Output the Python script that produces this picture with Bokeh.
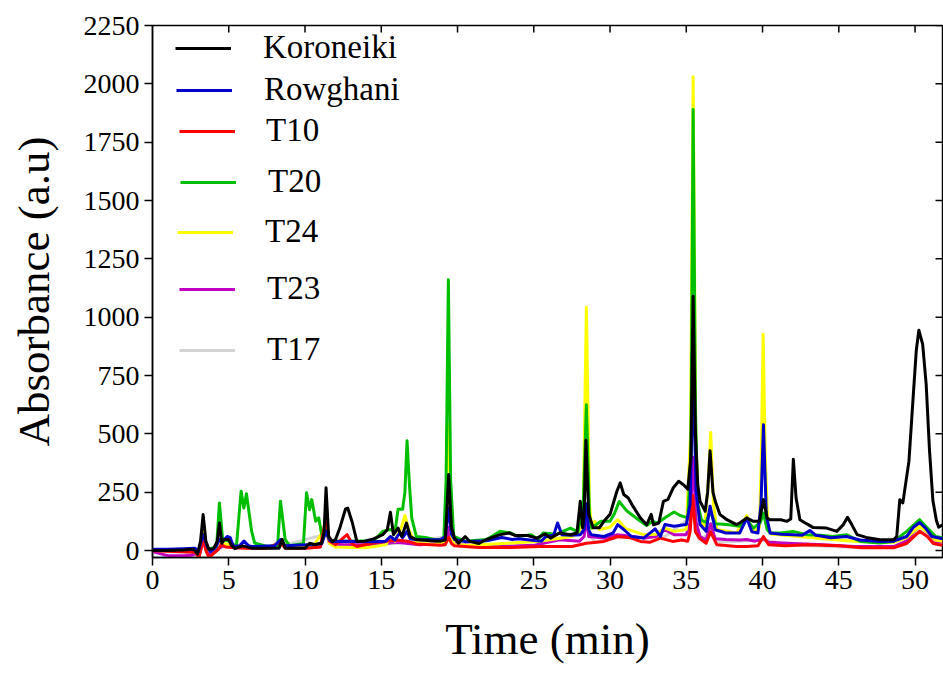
from bokeh.plotting import figure
from bokeh.models import (Range1d, SingleIntervalTicker, Legend, LegendItem, ColumnDataSource)
from bokeh.embed import file_html
from bokeh.resources import INLINE

# HPLC chromatograms: (retention time in min, absorbance in a.u.)
koroneiki = [
    (0, 0), (1.0, 0), (2.0, 2), (2.7, 5), (2.95, -15), (3.15, 40), (3.32, 154), (3.5, 40), (3.7, 5),
    (4.0, 8), (4.25, 40), (4.39, 118), (4.55, 31), (4.7, 47), (5.0, 47), (5.15, 25), (5.4, 8),
    (5.9, 20), (6.5, 10), (7.5, 10), (8.3, 10), (8.5, 47), (8.7, 10), (9.5, 10), (10.0, 10),
    (10.3, 31), (10.7, 25), (11.1, 32), (11.25, 80), (11.38, 269), (11.55, 60), (11.8, 38),
    (12.0, 47), (12.3, 100), (12.65, 177), (12.8, 182), (13.1, 120), (13.4, 39), (13.9, 40),
    (14.5, 50), (15.1, 68), (15.4, 90), (15.6, 164), (15.8, 68), (16.1, 96), (16.35, 60),
    (16.65, 118), (16.9, 60), (17.3, 47), (18.2, 42), (18.9, 40), (19.2, 45), (19.42, 326),
    (19.6, 100), (19.8, 53), (20.07, 31), (20.5, 60), (20.8, 39), (21.4, 30), (21.9, 47),
    (22.8, 68), (23.4, 75), (23.8, 64), (24.6, 64), (25.2, 53), (25.75, 71), (26.1, 53),
    (26.7, 75), (27.4, 68), (27.83, 75), (28.05, 211), (28.2, 97), (28.3, 150), (28.42, 472),
    (28.6, 155), (28.9, 97), (29.3, 97), (29.6, 125), (30.0, 155), (30.45, 254), (30.67, 290),
    (30.9, 240), (31.2, 225), (31.5, 190), (32.0, 139), (32.4, 110), (32.7, 155), (32.85, 110),
    (33.2, 118), (33.5, 211), (33.8, 219), (34.15, 269), (34.5, 297), (34.8, 283), (35.1, 263),
    (35.3, 400), (35.45, 1090), (35.6, 500), (35.75, 283), (35.9, 211), (36.24, 168), (36.4, 250),
    (36.56, 427), (36.75, 250), (36.9, 211), (37.2, 155), (37.66, 132), (38.3, 111), (38.5, 118),
    (38.97, 139), (39.4, 125), (39.8, 125), (40.06, 218), (40.3, 139), (40.5, 132), (41.2, 132),
    (41.6, 125), (41.85, 135), (42.02, 391), (42.2, 225), (42.45, 132), (42.8, 118), (43.0, 111),
    (43.3, 99), (44.2, 96), (44.87, 82), (45.3, 111), (45.57, 142), (45.85, 111), (46.2, 68),
    (46.8, 56), (47.7, 46), (48.6, 46), (48.8, 60), (49.0, 218), (49.2, 204), (49.6, 383),
    (49.86, 642), (50.08, 857), (50.25, 944), (50.5, 883), (50.73, 712), (50.95, 427),
    (51.17, 214), (51.4, 129), (51.55, 100), (51.8, 110),
]

rowghani = [
    (0, 5), (1.0, 5), (2.0, 8), (2.8, 10), (3.0, -5), (3.32, 68), (3.6, 15), (3.8, -5), (4.1, 10),
    (4.4, 47), (4.6, 40), (4.9, 60), (5.1, 55), (5.3, 17), (5.7, 20), (6.0, 40), (6.3, 20),
    (6.5, 17), (8.0, 20), (8.4, 47), (8.7, 20), (10.1, 25), (10.5, 25), (11.1, 30), (11.38, 82),
    (11.6, 45), (11.8, 38), (12.6, 40), (14.5, 38), (15.3, 40), (15.6, 60), (15.9, 45), (16.2, 75),
    (16.4, 55), (16.7, 82), (16.9, 50), (17.3, 46), (18.9, 47), (19.2, 60), (19.42, 182),
    (19.6, 70), (19.8, 47), (20.5, 38), (21.9, 42), (22.9, 56), (23.6, 47), (24.0, 50), (25.5, 40),
    (25.8, 60), (26.3, 65), (26.56, 118), (26.85, 67), (27.4, 65), (28.05, 68), (28.3, 90),
    (28.45, 200), (28.6, 90), (28.75, 68), (29.6, 60), (30.2, 75), (30.5, 111), (30.9, 90),
    (31.4, 60), (32.2, 53), (32.96, 93), (33.3, 60), (33.6, 111), (34.2, 104), (35.0, 111),
    (35.25, 200), (35.45, 760), (35.65, 250), (35.9, 111), (36.3, 82), (36.56, 190), (36.9, 89),
    (37.6, 75), (38.5, 75), (38.97, 139), (39.3, 80), (39.7, 75), (39.9, 200), (40.06, 539),
    (40.25, 150), (40.5, 75), (41.2, 70), (42.0, 68), (42.6, 65), (43.1, 86), (43.5, 65),
    (44.5, 55), (45.5, 60), (46.4, 45), (47.7, 39), (48.6, 40), (49.45, 60), (49.9, 100),
    (50.3, 120), (50.7, 95), (51.1, 60), (51.8, 50),
]

t10 = [
    (0, 0), (1.0, -3), (2.0, -5), (2.8, -8), (3.05, -30), (3.32, 53), (3.5, 0), (3.7, -30),
    (4.3, 4), (4.5, 25), (4.8, 15), (5.5, 12), (6.2, 10), (7.5, 10), (8.4, 35), (8.7, 10),
    (10.1, 10), (11.0, 15), (11.38, 139), (11.6, 40), (12.0, 25), (12.76, 68), (13.1, 28),
    (13.4, 17), (14.7, 35), (16.0, 45), (16.7, 40), (17.3, 28), (18.9, 22), (19.2, 25),
    (19.42, 56), (19.6, 30), (19.8, 20), (21.4, 13), (23.5, 13), (25.4, 17), (27.5, 17),
    (28.45, 31), (29.6, 39), (30.5, 60), (31.3, 55), (32.0, 39), (32.6, 35), (33.3, 53),
    (34.1, 39), (34.7, 45), (35.1, 40), (35.25, 80), (35.42, 237), (35.6, 80), (35.9, 50),
    (36.3, 31), (36.6, 80), (37.0, 25), (38.3, 17), (38.97, 17), (39.7, 20), (40.06, 60),
    (40.4, 25), (41.5, 20), (43.0, 25), (45.0, 20), (46.5, 12), (48.6, 12), (49.45, 30),
    (50.3, 82), (50.8, 60), (51.2, 30), (51.8, 22),
]

t20 = [
    (0, 0), (2.8, 2), (3.05, -10), (3.32, 60), (3.6, 5), (4.2, 15), (4.39, 204), (4.6, 47),
    (5.0, 40), (5.5, 17), (5.81, 254), (5.99, 182), (6.16, 243), (6.5, 82), (6.7, 32), (7.5, 17),
    (8.2, 20), (8.39, 211), (8.7, 47), (9.0, 20), (9.4, 25), (9.9, 30), (10.1, 247), (10.3, 175),
    (10.44, 218), (10.7, 125), (10.9, 140), (11.15, 47), (11.38, 90), (11.6, 45), (12.0, 40),
    (13.0, 40), (14.5, 42), (15.1, 82), (15.6, 90), (15.9, 80), (16.1, 177), (16.4, 177),
    (16.55, 250), (16.69, 470), (16.85, 280), (17.0, 139), (17.3, 60), (17.9, 56), (18.6, 45),
    (19.1, 50), (19.25, 300), (19.4, 1160), (19.55, 300), (19.75, 60), (20.5, 40), (21.9, 47),
    (22.8, 82), (23.5, 75), (24.0, 60), (24.8, 68), (25.3, 47), (25.6, 75), (26.5, 70),
    (27.4, 96), (27.9, 80), (28.25, 200), (28.45, 625), (28.65, 150), (28.8, 97), (29.4, 125),
    (30.0, 125), (30.3, 160), (30.6, 210), (31.1, 170), (31.5, 150), (32.0, 125), (32.4, 107),
    (32.8, 125), (33.1, 118), (33.7, 145), (34.2, 165), (34.6, 150), (35.1, 140), (35.3, 400),
    (35.45, 1890), (35.6, 600), (35.75, 200), (36.0, 130), (36.3, 120), (36.56, 170), (36.9, 115),
    (37.66, 111), (38.5, 104), (38.97, 132), (39.4, 96), (39.85, 120), (40.06, 160), (40.3, 90),
    (40.5, 75), (41.2, 75), (42.0, 82), (42.9, 68), (43.8, 65), (44.6, 60), (45.5, 68),
    (46.4, 39), (47.7, 32), (48.6, 39), (49.45, 82), (50.3, 132), (50.7, 104), (51.35, 60),
    (51.8, 55),
]

t24 = [
    (0, 0), (1.5, -2), (2.8, 2), (3.05, -10), (3.32, 80), (3.6, 5), (4.0, 10), (4.39, 40),
    (4.7, 30), (5.5, 15), (7.5, 12), (8.4, 30), (8.7, 12), (10.5, 15), (11.38, 100), (11.6, 30),
    (12.0, 15), (14.0, 12), (15.3, 25), (15.6, 60), (15.9, 40), (16.3, 96), (16.55, 150),
    (16.8, 90), (17.2, 35), (18.5, 25), (19.2, 40), (19.42, 543), (19.6, 60), (19.8, 25),
    (21.0, 22), (23.0, 30), (25.4, 40), (26.5, 50), (27.5, 60), (28.0, 80), (28.25, 200),
    (28.45, 1043), (28.65, 200), (28.8, 95), (29.0, 125), (29.3, 90), (30.0, 100), (30.5, 133),
    (31.0, 95), (32.2, 68), (33.0, 70), (33.6, 96), (34.2, 82), (35.0, 90), (35.28, 500),
    (35.45, 2030), (35.62, 500), (35.8, 150), (36.2, 90), (36.45, 300), (36.6, 506), (36.78, 200),
    (37.0, 90), (38.3, 75), (38.97, 150), (39.4, 80), (39.8, 100), (39.92, 400), (40.04, 927),
    (40.18, 400), (40.35, 100), (40.6, 70), (42.0, 62), (44.0, 50), (46.0, 40), (48.6, 35),
    (49.45, 55), (50.3, 104), (50.8, 80), (51.3, 45), (51.8, 40),
]

t23 = [
    (0, -5), (1.0, -22), (2.0, -22), (2.6, -20), (2.9, -10), (3.05, -25), (3.32, 40), (3.6, -10),
    (3.8, -20), (4.3, 5), (4.6, 20), (5.5, 12), (8.0, 12), (8.4, 30), (8.7, 12), (11.0, 15),
    (11.38, 90), (11.6, 30), (12.5, 25), (14.5, 25), (16.0, 35), (17.5, 25), (19.2, 30),
    (19.42, 100), (19.6, 35), (20.0, 25), (23.0, 18), (25.0, 22), (26.7, 46), (28.0, 40),
    (28.3, 60), (28.45, 150), (28.6, 60), (29.6, 53), (30.5, 68), (31.5, 60), (32.3, 53),
    (33.0, 60), (33.6, 89), (34.2, 68), (35.0, 68), (35.25, 120), (35.45, 400), (35.65, 120),
    (35.9, 60), (36.3, 45), (36.6, 115), (36.9, 50), (37.6, 47), (38.5, 45), (38.97, 47),
    (39.5, 40), (40.05, 50), (40.4, 35), (42.0, 30), (44.0, 25), (46.0, 17), (48.6, 17),
    (49.45, 40), (50.3, 111), (50.8, 80), (51.3, 40), (51.8, 35),
]

t17 = [
    (0, -3), (2.0, -8), (3.05, -20), (3.32, 35), (3.7, -15), (4.5, 15), (8.4, 20), (11.38, 70),
    (12.0, 20), (16.0, 30), (19.42, 60), (20.0, 20), (25.0, 18), (28.45, 90), (29.0, 35),
    (30.5, 55), (33.6, 60), (35.45, 150), (35.8, 50), (36.6, 70), (37.0, 35), (40.05, 45),
    (42.0, 22), (46.0, 14), (48.6, 14), (50.3, 90), (51.3, 30), (51.8, 25),
]

series_names = ["Koroneiki", "Rowghani", "T10", "T20", "T24", "T23", "T17"]
series_data = [koroneiki, rowghani, t10, t20, t24, t23, t17]
series_colors = ["#000000", "#0000CC", "#FF0000", "#00BF00", "#FFFF00", "#C000C0", "#D3D3D3"]
# drawn back to front: T17 first, Koroneiki last
draw_order = [6, 5, 4, 3, 2, 1, 0]

x_min, x_max = 0, 51.8
y_min, y_max = -30, 2250
x_ticks_step = 5
y_ticks_step = 250

SERIF = "Liberation Serif"

p = figure(width=943, height=676, x_range=Range1d(x_min, x_max), y_range=Range1d(y_min, y_max),
           output_backend="svg", toolbar_location=None,
           min_border_left=152, min_border_right=1, min_border_top=25, min_border_bottom=119)
p.grid.visible = False
p.outline_line_color = "black"
p.outline_line_width = 1.5
p.background_fill_color = "white"
p.border_fill_color = "white"

renderers = {}
for i in draw_order:
    pts = series_data[i]
    src = ColumnDataSource(dict(t=[a for a, _ in pts], v=[b for _, b in pts]))
    r = p.line("t", "v", source=src, line_color=series_colors[i], line_width=3,
               line_join="round")
    renderers[i] = r

# bottom and left axes, ticks pointing outwards
xt = SingleIntervalTicker(interval=x_ticks_step, num_minor_ticks=0)
yt = SingleIntervalTicker(interval=y_ticks_step, num_minor_ticks=0)
for ax in p.xaxis:
    ax.ticker = xt
    ax.axis_label = "Time (min)"
    ax.axis_label_standoff = 22
for ax in p.yaxis:
    ax.ticker = yt
    ax.axis_label = "Absorbance (a.u)"
    ax.axis_label_standoff = 22
    ax.major_label_standoff = 5
for ax in list(p.xaxis) + list(p.yaxis):
    ax.axis_line_width = 1.5
    ax.major_tick_line_width = 1.5
    ax.major_tick_out = 8
    ax.major_tick_in = 0
    ax.minor_tick_out = 0
    ax.minor_tick_in = 0
    ax.major_label_text_font = SERIF
    ax.major_label_text_font_size = "28px"
    ax.major_label_text_color = "black"
    ax.axis_label_text_font = SERIF
    ax.axis_label_text_font_size = "45px"
    ax.axis_label_text_font_style = "normal"
    ax.axis_label_text_color = "black"

# inward ticks along the top and right edges of the frame
top_ticks = list(range(x_ticks_step, int(x_max) + 1, x_ticks_step))
right_ticks = list(range(0, y_max + 1, y_ticks_step))
tick_len_y = 7 * (y_max - y_min) / 532
tick_len_x = 7 * (x_max - x_min) / 791
p.segment(x0=top_ticks, y0=[y_max] * len(top_ticks), x1=top_ticks,
          y1=[y_max - tick_len_y] * len(top_ticks), line_color="black", line_width=1.5)
p.segment(x0=[x_max] * len(right_ticks), y0=right_ticks, x1=[x_max - tick_len_x] * len(right_ticks),
          y1=right_ticks, line_color="black", line_width=1.5)

# legend: one entry per row, rows placed down the upper-left corner
legend_row_centres = [48, 90, 131, 182, 232, 289, 350]   # px below the frame top
legend_glyph_left = [23, 24, 27, 28, 25, 27, 27]          # px right of the frame's left edge
legend_standoff = [32, 32, 31, 32, 32, 32, 32]
frame_top, frame_bottom = 25, 557
row_h = 36
for i, name in enumerate(series_names):
    yc = legend_row_centres[i] - frame_top
    loc_y = (frame_bottom - frame_top) - yc - row_h / 2
    leg = Legend(items=[LegendItem(label=name, renderers=[renderers[i]])],
                 location=(legend_glyph_left[i], loc_y), margin=0, padding=0,
                 border_line_color=None, background_fill_alpha=0,
                 glyph_width=56, glyph_height=row_h, label_height=row_h,
                 label_standoff=legend_standoff[i], label_text_font=SERIF,
                 label_text_font_size="33px", label_text_color="black",
                 label_text_baseline="middle")
    p.add_layout(leg, "center")

open("out.html", "w").write(file_html(p, INLINE))
